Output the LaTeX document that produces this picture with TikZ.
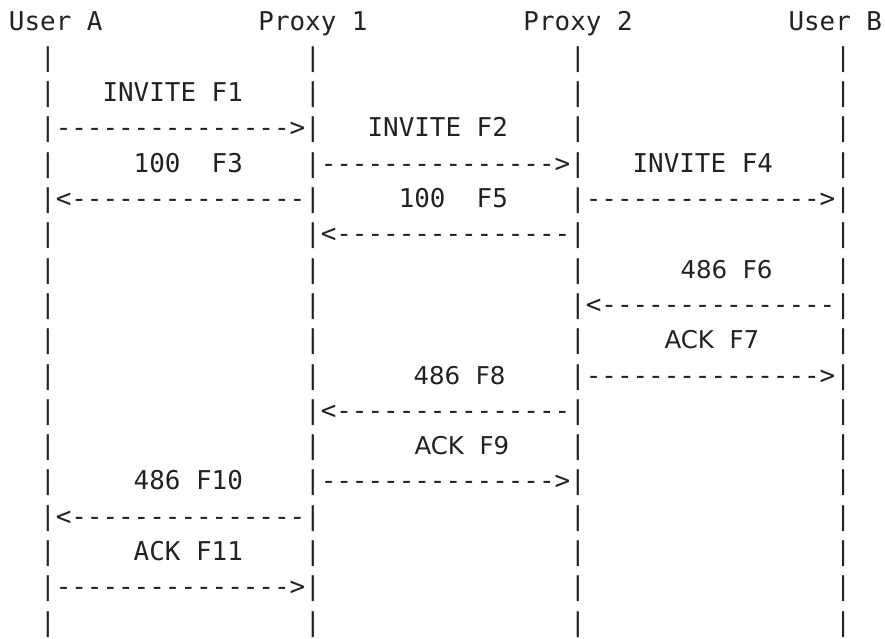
\documentclass[tikz,border=0pt]{standalone}
\usepackage{fontspec}
\newfontfamily\monofnt{DejaVu Sans Mono}[Ligatures=TeXOff]
\newfontfamily\sanslbl{DejaVu Sans}
\definecolor{ink}{HTML}{222222}
\def\W{15.59}
\def\H{35.3}
\def\B{31}
\begin{document}
\begin{tikzpicture}[x=1pt,y=-1pt,
  txt/.style={anchor=base west,inner sep=0pt,outer sep=0pt,text=ink,
    font=\monofnt\fontsize{25.9}{30}\selectfont},
  lbl/.style={anchor=base west,inner sep=0pt,outer sep=0pt,text=ink,
    font=\sanslbl\fontsize{24.5}{28}\selectfont}]
\useasboundingbox (0,0) rectangle (885,639);
% headers
\node[txt] (ua) at ({9+\W*0},{\B}) {User A};
\node[txt] (p1) at ({9+\W*16},{\B}) {Proxy 1};
\node[txt] (p2) at ({9+\W*33},{\B}) {Proxy 2};
\node[txt] (ub) at ({9+\W*50},{\B}) {User B};
% lifelines
\foreach \r in {1,...,17}{
  \foreach \c/\n in {2/a,19/p,36/q,53/b}{
    \node[txt] (l\n\r) at ({9+\W*\c},{\B+\H*\r}) {|};
  }
}
% messages
\node[txt] (m1) at ({9+\W*3},{\B+\H*3}) {--------------->};
\node[txt] (m2) at ({9+\W*20},{\B+\H*4}) {--------------->};
\node[txt] (m3) at ({9+\W*3},{\B+\H*5}) {<---------------};
\node[txt] (m4) at ({9+\W*37},{\B+\H*5}) {--------------->};
\node[txt] (m5) at ({9+\W*20},{\B+\H*6}) {<---------------};
\node[txt] (m6) at ({9+\W*37},{\B+\H*8}) {<---------------};
\node[txt] (m7) at ({9+\W*37},{\B+\H*10}) {--------------->};
\node[txt] (m8) at ({9+\W*20},{\B+\H*11}) {<---------------};
\node[txt] (m9) at ({9+\W*20},{\B+\H*13}) {--------------->};
\node[txt] (m10) at ({9+\W*3},{\B+\H*14}) {<---------------};
\node[txt] (m11) at ({9+\W*3},{\B+\H*16}) {--------------->};
% labels
\node[txt] (t1) at ({9+\W*6},{\B+\H*2}) {INVITE F1};
\node[txt] (t2) at ({9+\W*23},{\B+\H*3}) {INVITE F2};
\node[txt] (t3) at ({9+\W*8},{\B+\H*4}) {100\ \ F3};
\node[txt] (t4) at ({9+\W*40},{\B+\H*4}) {INVITE F4};
\node[txt] (t5) at ({9+\W*25},{\B+\H*5}) {100\ \ F5};
\node[lbl] (t6) at (680.5,{\B+\H*7}) {486\ \ F6};
\node[lbl] (t7) at (664.5,{\B+\H*9}) {ACK\ \ F7};
\node[lbl] (t8) at (413.5,{\B+\H*10}) {486\ \ F8};
\node[lbl] (t9) at (414.5,{\B+\H*12}) {ACK\ \ F9};
\node[txt] (t10) at ({9+\W*8},{\B+\H*13}) {486 F10};
\node[txt] (t11) at ({9+\W*8},{\B+\H*15}) {ACK F11};
\end{tikzpicture}
\end{document}
